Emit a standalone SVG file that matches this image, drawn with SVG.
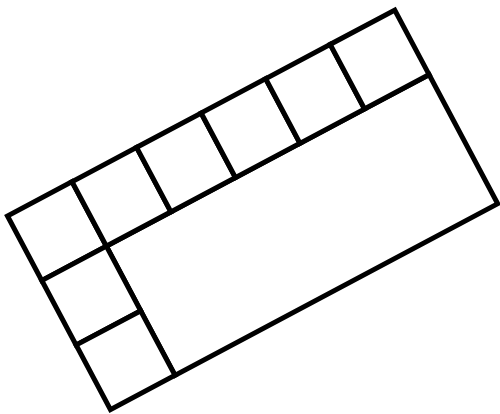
<svg xmlns="http://www.w3.org/2000/svg" width="500" height="414" viewBox="0 0 500 414">
<style>
.c{fill:#ffffff;stroke:#000000;stroke-width:5;stroke-linejoin:miter}
</style>
<rect width="500" height="414" fill="#ffffff"/>
<g transform="translate(7.5,216) rotate(-28)">
<g id="big"><rect class="c" x="73.1" y="73.1" width="365.5" height="146.2"/></g>
<g id="t1"><rect class="c" x="0" y="0" width="73.1" height="73.1"/></g>
<g id="t2"><rect class="c" x="73.1" y="0" width="73.1" height="73.1"/></g>
<g id="t3"><rect class="c" x="146.2" y="0" width="73.1" height="73.1"/></g>
<g id="t4"><rect class="c" x="219.3" y="0" width="73.1" height="73.1"/></g>
<g id="t5"><rect class="c" x="292.4" y="0" width="73.1" height="73.1"/></g>
<g id="t6"><rect class="c" x="365.5" y="0" width="73.1" height="73.1"/></g>
<g id="l2"><rect class="c" x="0" y="73.1" width="73.1" height="73.1"/></g>
<g id="l3"><rect class="c" x="0" y="146.2" width="73.1" height="73.1"/></g>
</g>
</svg>
